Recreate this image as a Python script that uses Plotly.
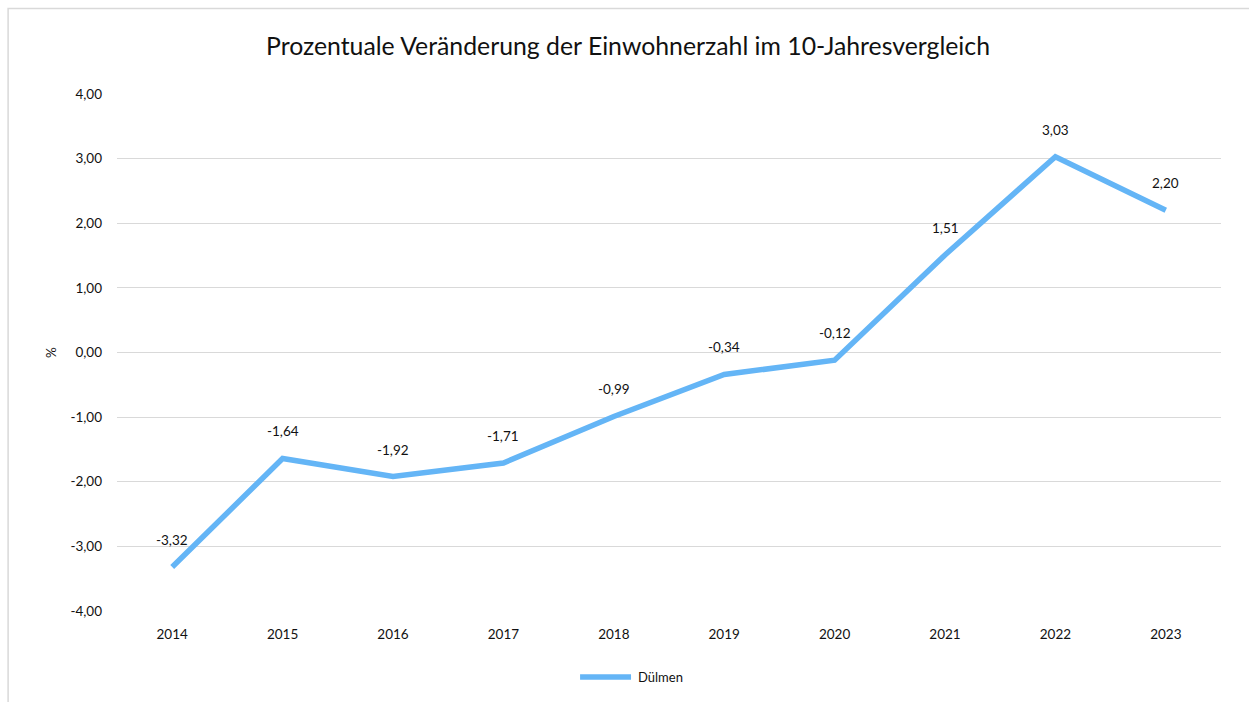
import plotly.graph_objects as go

# Population change (%) compared to ten years earlier
years = [2014, 2015, 2016, 2017, 2018, 2019, 2020, 2021, 2022, 2023]
change_pct = [-3.32, -1.64, -1.92, -1.71, -0.99, -0.34, -0.12, 1.51, 3.03, 2.20]
series_name = "Dülmen"
y_ticks = [-4, -3, -2, -1, 0, 1, 2, 3, 4]

W, H = 1249, 702
L, R, T, B = 116.5, 27.5, 94, 91
PW, PH = W - L - R, H - T - B


def px_x(x):
    return (x - L) / PW


def px_y(y):
    return (H - B - y) / PH


def de_num(v):
    return f"{v:.2f}".replace(".", ",")


LINE_COLOR = "#64B5F6"
FONT = "Lato"
TXT = "#111111"

fig = go.Figure()
fig.add_trace(go.Scatter(
    x=years, y=change_pct, mode="lines", name=series_name,
    line=dict(color=LINE_COLOR, width=5.5), showlegend=False,
    hoverinfo="x+y",
))

annotations = []
for yr, v in zip(years, change_pct):
    annotations.append(dict(
        x=yr, y=v, xref="x", yref="y",
        text=de_num(v), showarrow=False,
        xanchor="center", yanchor="middle",
        yshift=27, font=dict(family=FONT, size=13.5, color=TXT),
    ))

# y-axis title
annotations.append(dict(
    x=px_x(50), y=0.5, xref="paper", yref="paper", text="%",
    xanchor="center", yanchor="middle",
    textangle=-90, showarrow=False, font=dict(family=FONT, size=13.5, color=TXT),
))
# legend text
annotations.append(dict(
    x=px_x(636), y=px_y(677), xref="paper", yref="paper", text=series_name,
    xanchor="left", yanchor="middle", showarrow=False,
    font=dict(family=FONT, size=13, color=TXT),
))

shapes = [
    # chart border
    dict(type="rect", xref="paper", yref="paper",
         x0=px_x(7.5), x1=px_x(1260), y0=px_y(8.5), y1=px_y(720),
         line=dict(color="#d9d9d9", width=1.5), fillcolor="rgba(0,0,0,0)", layer="below"),
    # legend line sample
    dict(type="line", xref="paper", yref="paper",
         x0=px_x(580), x1=px_x(631), y0=px_y(677), y1=px_y(677),
         line=dict(color=LINE_COLOR, width=5.5)),
]

fig.update_layout(
    width=W, height=H,
    margin=dict(l=L, r=R, t=T, b=B),
    paper_bgcolor="white", plot_bgcolor="white",
    showlegend=False,
    title=dict(
        text="Prozentuale Veränderung der Einwohnerzahl im 10-Jahresvergleich",
        x=628 / W, xanchor="center", xref="container",
        y=1 - 46 / H, yanchor="middle", yref="container",
        font=dict(family=FONT, size=24.8, color=TXT),
    ),
    xaxis=dict(
        range=[years[0] - 0.5, years[-1] + 0.5],
        tickvals=years, ticktext=[str(y) for y in years],
        showgrid=False, zeroline=False, showline=False,
        ticks="", ticklabelstandoff=13,
        tickfont=dict(family=FONT, size=13.5, color=TXT),
    ),
    yaxis=dict(
        range=[-4, 4], tickvals=y_ticks, ticktext=[de_num(t) for t in y_ticks],
        showgrid=True, gridcolor="#d9d9d9", gridwidth=1.3,
        zeroline=False, showline=False, ticks="", ticklabelstandoff=14,
        tickfont=dict(family=FONT, size=13.5, color=TXT),
    ),
    annotations=annotations,
    shapes=shapes,
)

fig.write_html("out.html")
